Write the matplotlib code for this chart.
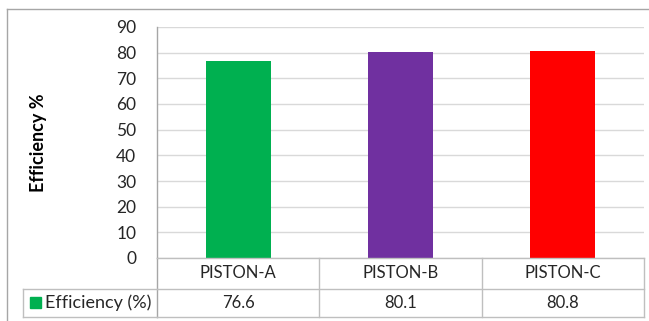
import matplotlib.pyplot as plt
from matplotlib.lines import Line2D
from matplotlib.patches import Rectangle

# data
pistons = ["PISTON-A", "PISTON-B", "PISTON-C"]
efficiency = [76.6, 80.1, 80.8]
bar_colors = ["#00B050", "#7030A0", "#FF0000"]
series_name = "Efficiency (%)"
y_ticks = [0, 10, 20, 30, 40, 50, 60, 70, 80, 90]

plt.rcParams['font.family'] = ['Lato', 'DejaVu Sans']

W, H = 649, 321
fig = plt.figure(figsize=(W / 100, H / 100), dpi=100)

# pixel -> figure fraction helpers
def fx(px):
    return px / W

def fy(py):
    return 1 - py / H

left, right, top, zero = 157, 644, 27, 258
ax = fig.add_axes([fx(left), fy(zero), fx(right) - fx(left), fy(top) - fy(zero)])

x = range(len(pistons))
ax.bar(x, efficiency, width=0.4, color=bar_colors, zorder=3)
ax.set_xlim(-0.5, len(pistons) - 0.5)
ax.set_ylim(0, 90)
ax.set_yticks(y_ticks)
ax.set_yticklabels([str(t) for t in y_ticks], fontsize=12.5, color="#262626")
ax.tick_params(axis='y', length=0, pad=15)
ax.set_xticks([])
ax.grid(axis='y', color="#D9D9D9", linewidth=1, zorder=0)
for s in ["top", "right", "bottom"]:
    ax.spines[s].set_visible(False)
ax.spines["left"].set_color("#A6A6A6")
ax.spines["left"].set_linewidth(1)
ax.spines["left"].set_zorder(4)
ax.set_ylabel("Efficiency %", fontsize=13, fontweight="bold", labelpad=50)

# data table below the plot
row1, row2 = 289, 317
line_color = "#BFBFBF"
tr = ax.get_xaxis_transform()

# pixel row -> axes fraction
def ay(py):
    return (zero - py) / (zero - top)

for py in [zero, row1, row2]:
    ax.add_line(Line2D([-0.5, len(pistons) - 0.5], [ay(py), ay(py)], transform=tr,
                       color=line_color, linewidth=1, clip_on=False, zorder=5))
for i in range(len(pistons) + 1):
    xv = i - 0.5
    ax.add_line(Line2D([xv, xv], [ay(zero), ay(row2)], transform=tr,
                       color="#A6A6A6" if i == 0 else line_color,
                       linewidth=1, clip_on=False))

for i, (name, val) in enumerate(zip(pistons, efficiency)):
    ax.text(i, ay((zero + row1) / 2), name, transform=tr, ha='center', va='center',
            fontsize=12, color="#262626", clip_on=False)
    ax.text(i, ay((row1 + row2) / 2), f"{val:.1f}", transform=tr, ha='center', va='center',
            fontsize=12, color="#262626", clip_on=False)

# legend cell
fig.add_artist(Line2D([fx(23), fx(left)], [fy(row1), fy(row1)], color=line_color, linewidth=1))
fig.add_artist(Line2D([fx(23), fx(left)], [fy(row2), fy(row2)], color=line_color, linewidth=1))
fig.add_artist(Line2D([fx(23), fx(23)], [fy(row1), fy(row2)], color=line_color, linewidth=1))
fig.add_artist(Rectangle((fx(30), fy(308)), fx(11), fy(297) - fy(308), color=bar_colors[0],
                         transform=fig.transFigure))
fig.text(fx(45), fy((row1 + row2) / 2), series_name, ha='left', va='center',
         fontsize=13, color="#262626")

# outer chart border
fig.add_artist(Line2D([fx(7), fx(7)], [fy(9), 0], color="#A6A6A6", linewidth=1))
fig.add_artist(Line2D([fx(7), 1], [fy(9), fy(9)], color="#A6A6A6", linewidth=1))

fig.savefig("out.png", dpi=100)
